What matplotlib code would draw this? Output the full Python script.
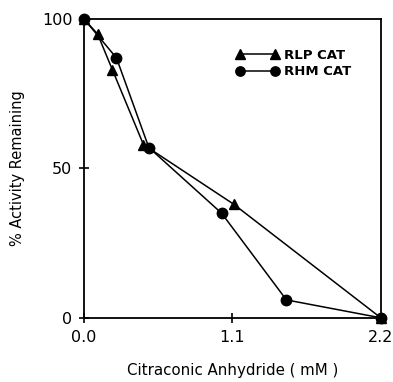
import numpy as np
import matplotlib.pyplot as plt

# Citraconic anhydride (mM) vs % activity remaining
rlp_x = [0.0, 0.10, 0.21, 0.44, 1.11, 2.2]
rlp_y = [100, 95, 83, 58, 38, 0]
rhm_x = [0.0, 0.24, 0.48, 1.02, 1.50, 2.2]
rhm_y = [100, 87, 57, 35, 6, 0]

xticks = [0.0, 1.1, 2.2]
yticks = [0, 50, 100]

fig = plt.figure(figsize=(3.93, 3.82), dpi=100)
ax = fig.add_axes([0.214, 0.168, 0.755, 0.782])

ax.plot(rlp_x, rlp_y, color='k', linewidth=1.1, marker='^', markersize=7.5,
        label='RLP CAT', clip_on=False, zorder=3)
ax.plot(rhm_x, rhm_y, color='k', linewidth=1.1, marker='o', markersize=7.5,
        label='RHM CAT', clip_on=False, zorder=3)

ax.set_xlim(0, 2.2)
ax.set_ylim(0, 100)
ax.set_xticks(xticks)
ax.set_xticklabels(['0.0', '1.1', '2.2'])
ax.set_yticks(yticks)
ax.tick_params(direction='inout', length=7, width=1.2, labelsize=11.5, pad=5)
for s in ax.spines.values():
    s.set_linewidth(1.3)

ax.set_xlabel('Citraconic Anhydride ( mM )', fontsize=10.8, labelpad=13)
ax.set_ylabel('% Activity Remaining', fontsize=10.5, labelpad=12)

ax.legend(loc='upper right', bbox_to_anchor=(0.94, 0.94), frameon=False,
          numpoints=2, handlelength=3.2, handletextpad=0.4,
          labelspacing=0.25, prop={'weight': 'bold', 'size': 9.5},
          markerscale=0.9)

fig.savefig('out.png', dpi=100)
